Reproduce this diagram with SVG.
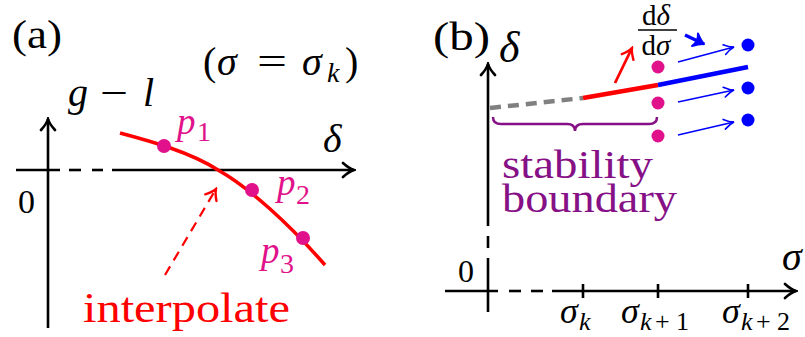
<svg xmlns="http://www.w3.org/2000/svg" width="805" height="337" viewBox="0 0 805 337" font-family="'Liberation Serif', 'DejaVu Serif', 'Times New Roman', serif">
<defs>
<style>
text{font-family:'Liberation Serif','DejaVu Serif','Times New Roman',serif;fill:#000}
.m{font-style:italic}
.ax{stroke:#000;stroke-width:2.6;fill:none}
.mag{fill:#e0118a}
.bl{fill:#0000ff}
.pu{fill:#861086}
.rd{fill:#ff0000}
</style>
<marker id="ak" viewBox="-14 -9 16 18" refX="0" refY="0" markerWidth="16" markerHeight="18" markerUnits="userSpaceOnUse" orient="auto">
<path d="M-11,-7 Q-5,-1.5 0,0 Q-5,1.5 -11,7" fill="none" stroke="#000" stroke-width="2.6" stroke-linecap="round"/>
</marker>
<marker id="ar" viewBox="-14 -9 16 18" refX="0" refY="0" markerWidth="16" markerHeight="18" markerUnits="userSpaceOnUse" orient="auto">
<path d="M-10,-6.5 Q-4.5,-1.5 0,0 Q-4.5,1.5 -10,6.5" fill="none" stroke="#ff0000" stroke-width="2.4" stroke-linecap="round"/>
</marker>
<marker id="ab" viewBox="-14 -9 16 18" refX="0" refY="0" markerWidth="16" markerHeight="18" markerUnits="userSpaceOnUse" orient="auto">
<path d="M-10,-5 Q-4.5,-1 0,0 Q-4.5,1 -10,5" fill="none" stroke="#0000ff" stroke-width="1.6" stroke-linecap="round"/>
</marker>
<marker id="abt" viewBox="-14 -9 16 18" refX="0" refY="0" markerWidth="16" markerHeight="18" markerUnits="userSpaceOnUse" orient="auto">
<path d="M-10,-7 Q-4,-1.5 0,0 Q-4,1.5 -10,7 Q-6,0 -10,-7 Z" fill="#0000ff" stroke="#0000ff" stroke-width="2" stroke-linejoin="round"/>
</marker>
</defs>

<!-- Panel (a) -->
<g id="panel-a">
  <text x="12" y="48" font-size="40" textLength="50" lengthAdjust="spacingAndGlyphs">(a)</text>
  <g id="a-condition">
    <text x="203" y="75" font-size="40">(</text>
    <text x="217" y="75" font-size="40" class="m">σ</text>
    <text x="257" y="75" font-size="40" textLength="30" lengthAdjust="spacingAndGlyphs">=</text>
    <text x="302" y="75" font-size="40" class="m">σ</text>
    <text x="327" y="82" font-size="28" class="m">k</text>
    <text x="345" y="75" font-size="40">)</text>
  </g>
  <g id="a-axes">
    <line class="ax" x1="48" y1="328" x2="48" y2="119" marker-end="url(#ak)"/>
    <line class="ax" x1="16" y1="170" x2="60" y2="170"/>
    <line class="ax" x1="69" y1="170" x2="81" y2="170"/>
    <line class="ax" x1="92" y1="170" x2="103" y2="170"/>
    <line class="ax" x1="112" y1="170" x2="354" y2="170" marker-end="url(#ak)"/>
    <text x="68" y="106" font-size="40" class="m">g</text>
    <text x="100" y="106" font-size="40" textLength="28" lengthAdjust="spacingAndGlyphs">−</text>
    <text x="143" y="106" font-size="40" class="m">l</text>
    <text x="323" y="152" font-size="40" class="m">δ</text>
    <text x="18" y="213" font-size="34">0</text>
  </g>
  <g id="a-curve">
    <path d="M120,133 C150,141 190,152 218,170 C250,188 290,225 325,265" fill="none" stroke="#ff0000" stroke-width="3.6"/>
  </g>
  <g id="p1">
    <circle class="mag" cx="164" cy="146" r="7"/>
    <text class="mag m" x="177" y="134" font-size="37">p</text>
    <text class="mag" x="197" y="141" font-size="28">1</text>
  </g>
  <g id="p2">
    <circle class="mag" cx="252" cy="190" r="7"/>
    <text class="mag m" x="277" y="195" font-size="37">p</text>
    <text class="mag" x="296" y="204" font-size="28">2</text>
  </g>
  <g id="p3">
    <circle class="mag" cx="303" cy="238" r="7"/>
    <text class="mag m" x="261" y="263" font-size="37">p</text>
    <text class="mag" x="280" y="273" font-size="28">3</text>
  </g>
  <g id="interpolate">
    <line x1="165" y1="275" x2="216" y2="189" stroke="#ff0000" stroke-width="2.2" stroke-dasharray="10 7" marker-end="url(#ar)"/>
    <text class="rd" x="83" y="322" font-size="42" textLength="207" lengthAdjust="spacingAndGlyphs">interpolate</text>
  </g>
</g>

<!-- Panel (b) -->
<g id="panel-b">
  <text x="433" y="50" font-size="40" textLength="57" lengthAdjust="spacingAndGlyphs">(b)</text>
  <g id="b-axes">
    <line class="ax" x1="488" y1="312" x2="488" y2="258"/>
    <line class="ax" x1="488" y1="248" x2="488" y2="236"/>
    <line class="ax" x1="488" y1="226" x2="488" y2="64" marker-end="url(#ak)"/>
    <line class="ax" x1="445" y1="291" x2="498" y2="291"/>
    <line class="ax" x1="509" y1="291" x2="521" y2="291"/>
    <line class="ax" x1="531" y1="291" x2="543" y2="291"/>
    <line class="ax" x1="552" y1="291" x2="796" y2="291" marker-end="url(#ak)"/>
    <line class="ax" x1="583" y1="284" x2="583" y2="298"/>
    <line class="ax" x1="658" y1="284" x2="658" y2="298"/>
    <line class="ax" x1="748" y1="284" x2="748" y2="298"/>
    <text x="499" y="62" font-size="44" class="m">δ</text>
    <text x="782" y="270" font-size="40" class="m">σ</text>
    <text x="458" y="282" font-size="32">0</text>
  </g>
  <g id="sigma-labels">
    <text x="560" y="323" font-size="36" class="m">σ</text>
    <text x="579" y="330" font-size="26" class="m">k</text>
    <text x="621" y="323" font-size="36" class="m">σ</text>
    <text x="640" y="330" font-size="26" class="m">k</text>
    <text x="655" y="330" font-size="26">+</text>
    <text x="676" y="330" font-size="26">1</text>
    <text x="722" y="323" font-size="36" class="m">σ</text>
    <text x="741" y="330" font-size="26" class="m">k</text>
    <text x="756" y="330" font-size="26">+</text>
    <text x="777" y="330" font-size="26">2</text>
  </g>
  <g id="boundary-curve">
    <line x1="490" y1="108" x2="583" y2="98" stroke="#808080" stroke-width="4.5" stroke-dasharray="11 7"/>
    <line x1="583" y1="98" x2="658" y2="85" stroke="#ff0000" stroke-width="4.5"/>
    <line x1="658" y1="85" x2="748" y2="67" stroke="#0000ff" stroke-width="4.5"/>
  </g>
  <g id="derivative">
    <line x1="615" y1="83" x2="632" y2="48" stroke="#ff0000" stroke-width="2.8" marker-end="url(#ar)"/>
    <text x="656" y="25" font-size="29" text-anchor="middle">d<tspan class="m">δ</tspan></text>
    <line x1="638" y1="30" x2="677" y2="30" stroke="#000" stroke-width="1.5"/>
    <text x="656" y="55" font-size="29" text-anchor="middle">d<tspan class="m">σ</tspan></text>
    <line x1="685" y1="35" x2="704" y2="44" stroke="#0000ff" stroke-width="3.5" marker-end="url(#abt)"/>
  </g>
  <g id="k1-points">
    <circle class="mag" cx="658" cy="67" r="6.5"/>
    <circle class="mag" cx="658" cy="103" r="6.5"/>
    <circle class="mag" cx="658" cy="136" r="6.5"/>
  </g>
  <g id="connectors">
    <line x1="678" y1="62" x2="734" y2="47" stroke="#0000ff" stroke-width="1.6" marker-end="url(#ab)"/>
    <line x1="678" y1="102" x2="734" y2="90" stroke="#0000ff" stroke-width="1.6" marker-end="url(#ab)"/>
    <line x1="678" y1="135" x2="734" y2="122" stroke="#0000ff" stroke-width="1.6" marker-end="url(#ab)"/>
  </g>
  <g id="k2-points">
    <circle class="bl" cx="748" cy="45" r="6.5"/>
    <circle class="bl" cx="748" cy="88" r="6.5"/>
    <circle class="bl" cx="748" cy="120" r="6.5"/>
  </g>
  <g id="stability-boundary">
    <path d="M493,117 Q493,124 501,124 L567,124 Q575,124 575,131 Q575,124 583,124 L649,124 Q657,124 657,117" fill="none" stroke="#861086" stroke-width="2.5"/>
    <text class="pu" x="502" y="178" font-size="41" textLength="151" lengthAdjust="spacingAndGlyphs">stability</text>
    <text class="pu" x="502" y="212" font-size="41" textLength="175" lengthAdjust="spacingAndGlyphs">boundary</text>
  </g>
</g>
</svg>
